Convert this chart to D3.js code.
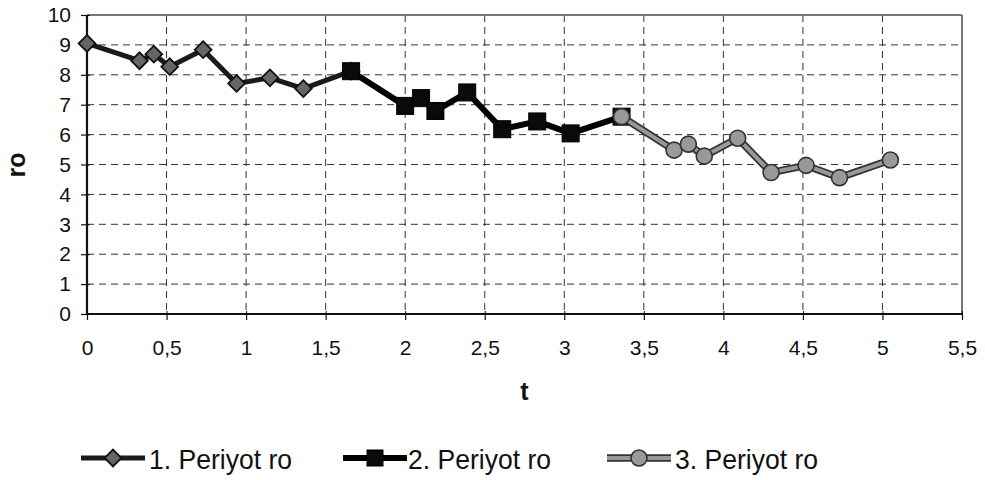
<!DOCTYPE html>
<html>
<head>
<meta charset="utf-8">
<script src="https://cdn.jsdelivr.net/npm/d3@7"></script>
<style>
  html, body { margin: 0; padding: 0; background: #fff; }
  svg { display: block; font-family: "Liberation Sans", Arial, sans-serif; }
</style>
</head>
<body>
<svg id="chart" width="985" height="480"></svg>
<script>
// ---- data ----
const seriesNames = ["1. Periyot ro", "2. Periyot ro", "3. Periyot ro"];
const t1 = [0, 0.33, 0.42, 0.52, 0.73, 0.94, 1.15, 1.36, 1.66];
const ro1 = [9.05, 8.47, 8.69, 8.27, 8.84, 7.71, 7.9, 7.54, 8.12];
const t2 = [1.66, 2.0, 2.1, 2.19, 2.39, 2.61, 2.83, 3.04, 3.36];
const ro2 = [8.12, 6.96, 7.22, 6.79, 7.41, 6.18, 6.44, 6.04, 6.6];
const t3 = [3.36, 3.69, 3.78, 3.88, 4.09, 4.3, 4.52, 4.73, 5.05];
const ro3 = [6.6, 5.48, 5.68, 5.28, 5.88, 4.73, 4.97, 4.56, 5.15];
const xTicks = [0, 0.5, 1, 1.5, 2, 2.5, 3, 3.5, 4, 4.5, 5, 5.5];
const yTicks = [0, 1, 2, 3, 4, 5, 6, 7, 8, 9, 10];
const xTitle = "t";
const yTitle = "ro";

// ---- layout ----
const svg = d3.select("#chart");
const pL = 87, pR = 962, pT = 15, pB = 314;
const x = d3.scaleLinear().domain([0, 5.5]).range([pL, pR]);
const y = d3.scaleLinear().domain([0, 10]).range([pB, pT]);
const fmt = d => String(d).replace(".", ",");

// gridlines
const grid = svg.append("g");
grid.selectAll("line.h").data(yTicks.filter(d => d > 0 && d < 10)).join("line")
  .attr("x1", pL).attr("x2", pR).attr("y1", d => y(d)).attr("y2", d => y(d))
  .attr("stroke", "#333").attr("stroke-width", 1).attr("stroke-dasharray", "7,5");
grid.selectAll("line.v").data(xTicks.filter(d => d > 0 && d < 5.5)).join("line")
  .attr("y1", pT).attr("y2", pB).attr("x1", d => x(d)).attr("x2", d => x(d))
  .attr("stroke", "#333").attr("stroke-width", 1).attr("stroke-dasharray", "7,5");

// top / right border (gray)
svg.append("line").attr("x1", pL).attr("x2", pR).attr("y1", pT).attr("y2", pT)
  .attr("stroke", "#777").attr("stroke-width", 2);
svg.append("line").attr("x1", pR).attr("x2", pR).attr("y1", pT).attr("y2", pB)
  .attr("stroke", "#777").attr("stroke-width", 2);

// axes
const xAxis = d3.axisBottom(x).tickValues(xTicks).tickFormat(fmt).tickSize(6).tickPadding(20);
const yAxis = d3.axisLeft(y).tickValues(yTicks).tickFormat(fmt).tickSize(6).tickPadding(10);
const gx = svg.append("g").attr("transform", `translate(0,${pB})`).call(xAxis);
const gy = svg.append("g").attr("transform", `translate(${pL},0)`).call(yAxis);
[gx, gy].forEach(g => {
  g.select(".domain").attr("stroke", "#111").attr("stroke-width", 2.2);
  g.selectAll(".tick line").attr("stroke", "#111").attr("stroke-width", 1.2);
  g.selectAll(".tick text").attr("fill", "#111").attr("font-size", 21)
    .attr("font-family", "'Liberation Sans', Arial, sans-serif");
});
gx.select(".domain").attr("d", `M${pL},0H${pR}`);
gy.select(".domain").attr("d", `M0,${pB}V${pT}`);
gx.selectAll(".tick").append("line").attr("y1", 0).attr("y2", -3).attr("stroke", "#111");
gy.selectAll(".tick").append("line").attr("x1", 0).attr("x2", 3).attr("stroke", "#111");

// axis titles
svg.append("text").attr("x", (pL + pR) / 2).attr("y", 400).attr("text-anchor", "middle")
  .attr("font-size", 25).attr("font-weight", "bold").attr("fill", "#111").text(xTitle);
svg.append("text").attr("transform", `translate(25,165) rotate(-90)`).attr("text-anchor", "middle")
  .attr("font-size", 25).attr("font-weight", "bold").attr("fill", "#111").text(yTitle);

// ---- series ----
const line = d3.line().x(d => x(d[0])).y(d => y(d[1]));
const s1 = d3.zip(t1, ro1), s2 = d3.zip(t2, ro2), s3 = d3.zip(t3, ro3);

function drawDiamond(g, cx, cy, s) {
  g.append("path").attr("d", d3.symbol().type(d3.symbolSquare).size(s)())
    .attr("transform", `translate(${cx},${cy}) rotate(45)`)
    .attr("fill", "#666").attr("stroke", "#111").attr("stroke-width", 1.8);
}
function drawSquare(g, cx, cy, s) {
  g.append("rect").attr("x", cx - s / 2).attr("y", cy - s / 2).attr("width", s).attr("height", s)
    .attr("fill", "#0a0a0a").attr("stroke", "#000").attr("stroke-width", 1);
}
function drawCircle(g, cx, cy, r) {
  g.append("circle").attr("cx", cx).attr("cy", cy).attr("r", r)
    .attr("fill", "#999").attr("stroke", "#333").attr("stroke-width", 1.6);
}

const g1 = svg.append("g");
g1.append("path").datum(s1).attr("d", line).attr("fill", "none")
  .attr("stroke", "#1a1a1a").attr("stroke-width", 5).attr("stroke-linejoin", "round");
s1.forEach(d => drawDiamond(g1, x(d[0]), y(d[1]), 140));

const g2 = svg.append("g");
g2.append("path").datum(s2).attr("d", line).attr("fill", "none")
  .attr("stroke", "#000").attr("stroke-width", 6).attr("stroke-linejoin", "round");
s2.forEach(d => drawSquare(g2, x(d[0]), y(d[1]), 17));

const g3 = svg.append("g");
g3.append("path").datum(s3).attr("d", line).attr("fill", "none")
  .attr("stroke", "#333").attr("stroke-width", 7.5).attr("stroke-linejoin", "round");
g3.append("path").datum(s3).attr("d", line).attr("fill", "none")
  .attr("stroke", "#999").attr("stroke-width", 4).attr("stroke-linejoin", "round");
s3.forEach(d => drawCircle(g3, x(d[0]), y(d[1]), 8));

// ---- legend ----
const legY = 458;
const legItems = [
  { name: seriesNames[0], x0: 81, tx: 149 },
  { name: seriesNames[1], x0: 343, tx: 408 },
  { name: seriesNames[2], x0: 607, tx: 675 }
];
const lg = svg.append("g");
legItems.forEach((it, i) => {
  const g = lg.append("g");
  const x0 = it.x0, x1 = it.x0 + 64, cx = it.x0 + 32;
  if (i === 0) {
    g.append("line").attr("x1", x0).attr("x2", x1).attr("y1", legY).attr("y2", legY)
      .attr("stroke", "#1a1a1a").attr("stroke-width", 5);
    drawDiamond(g, cx, legY, 140);
  } else if (i === 1) {
    g.append("line").attr("x1", x0).attr("x2", x1).attr("y1", legY).attr("y2", legY)
      .attr("stroke", "#000").attr("stroke-width", 6);
    drawSquare(g, cx, legY, 16);
  } else {
    g.append("line").attr("x1", x0).attr("x2", x1).attr("y1", legY).attr("y2", legY)
      .attr("stroke", "#333").attr("stroke-width", 7.5);
    g.append("line").attr("x1", x0).attr("x2", x1).attr("y1", legY).attr("y2", legY)
      .attr("stroke", "#999").attr("stroke-width", 4);
    drawCircle(g, cx, legY, 8);
  }
  g.append("text").attr("x", it.tx).attr("y", legY + 11)
    .attr("font-size", 28).attr("fill", "#111")
    .attr("textLength", 143).attr("lengthAdjust", "spacingAndGlyphs").text(it.name);
});
</script>
</body>
</html>
